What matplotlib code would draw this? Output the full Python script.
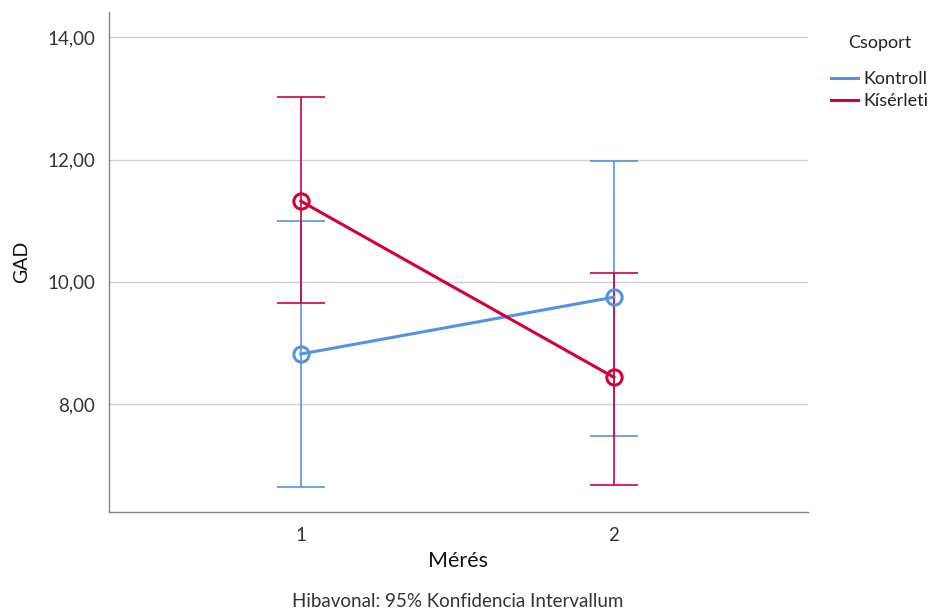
import matplotlib.pyplot as plt

plt.rcParams["font.family"] = ["Lato", "DejaVu Sans"]

measurements = [1, 2]
groups = ["Kontroll", "Kísérleti"]
colors = {"Kontroll": "#5592E2", "Kísérleti": "#D3003D"}

means = {"Kontroll": [8.82, 9.75], "Kísérleti": [11.32, 8.44]}
ci_low = {"Kontroll": [6.65, 7.48], "Kísérleti": [9.65, 6.68]}
ci_high = {"Kontroll": [11.00, 11.97], "Kísérleti": [13.02, 10.15]}

yticks = [8, 10, 12, 14]
ytick_labels = ["8,00", "10,00", "12,00", "14,00"]

fig = plt.figure(figsize=(9.34, 6.10), dpi=100)
ax = fig.add_axes([0.1167, 0.1607, 0.7483, 0.8193])

for g in groups:
    m = means[g]
    lo = [m[i] - ci_low[g][i] for i in range(2)]
    hi = [ci_high[g][i] - m[i] for i in range(2)]
    ax.errorbar(measurements, m, yerr=[lo, hi], fmt="none", ecolor=colors[g],
                elinewidth=1.2, capsize=17, capthick=1.2, zorder=3)
    ax.plot(measurements, m, color=colors[g], linewidth=2.2, marker="o",
            markersize=11, markerfacecolor="none", markeredgewidth=2.2,
            label=g, zorder=4)

ax.set_xlim(0.387, 2.62)
ax.set_ylim(6.237, 14.41)
ax.set_xticks(measurements)
ax.set_xticklabels(["1", "2"])
ax.set_yticks(yticks)
ax.set_yticklabels(ytick_labels)
ax.tick_params(length=0, labelsize=13.5, labelcolor="#333333", pad=10)
ax.tick_params(axis="x", pad=11)
ax.grid(axis="y", color="#D0D0D0", linewidth=1)
ax.set_axisbelow(True)
for s in ["top", "right"]:
    ax.spines[s].set_visible(False)
for s in ["left", "bottom"]:
    ax.spines[s].set_color("#888888")
    ax.spines[s].set_linewidth(1)

ax.set_xlabel("Mérés", fontsize=15.5, color="#111111", labelpad=5)
ax.set_ylabel("GAD", fontsize=14, color="#111111", labelpad=12)

leg = fig.legend(loc="upper left", bbox_to_anchor=(0.89, 0.942), frameon=False,
                 title="Csoport", fontsize=13, title_fontsize=13,
                 handlelength=1.5, handletextpad=0.3, labelspacing=0.35,
                 borderaxespad=0, borderpad=0)
leg._legend_box.sep = 14
for line in leg.get_lines():
    line.set_marker("")
for t in leg.get_texts():
    t.set_color("#222222")
leg.get_title().set_color("#222222")

fig.text(0.49, 0.0, "Hibavonal: 95% Konfidencia Intervallum", ha="center",
         va="bottom", fontsize=13.5, color="#333333")

fig.savefig("out.png", dpi=100)
